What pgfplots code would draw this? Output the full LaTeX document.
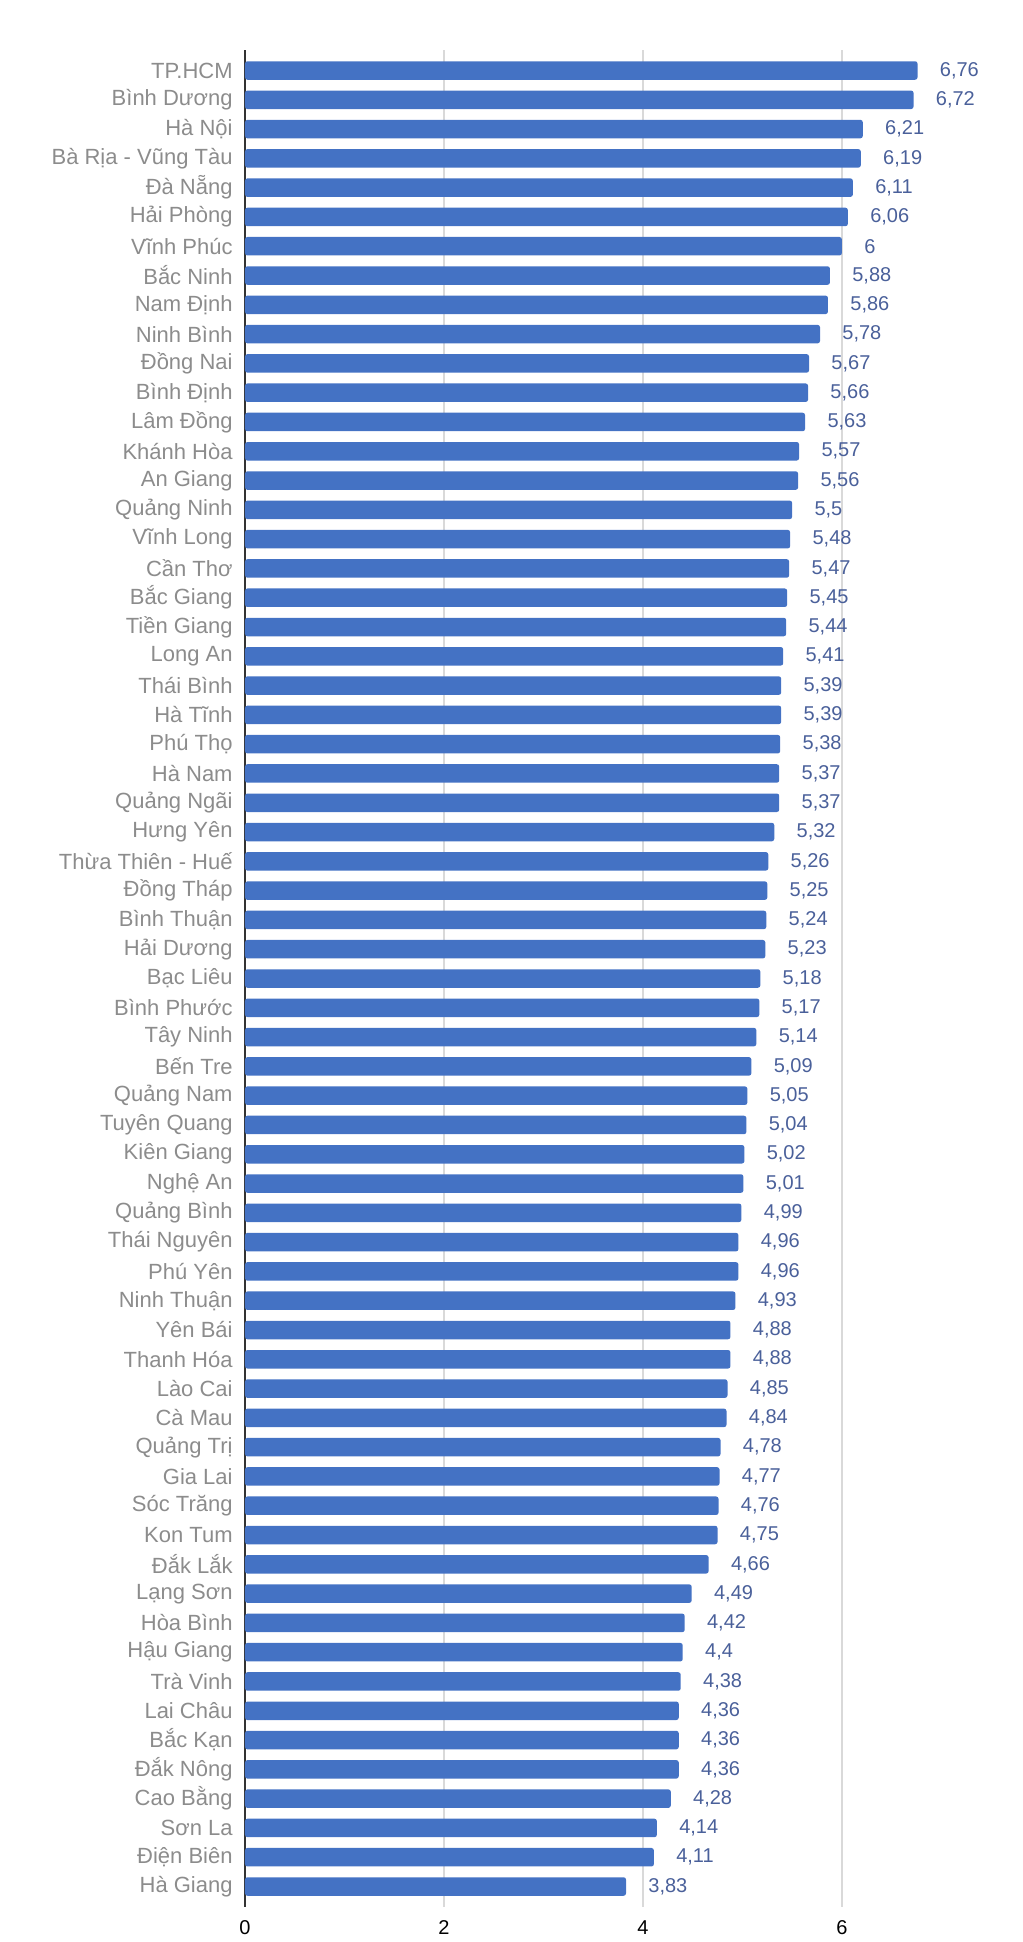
\documentclass[border=0pt]{standalone}
\usepackage{fontspec}
\setmainfont{Liberation Sans}
\usepackage{pgfplots}
\pgfplotsset{compat=1.18}
\definecolor{barblue}{HTML}{4472C4}
\definecolor{vallab}{HTML}{4A609A}
\definecolor{catgray}{HTML}{8C8C8C}
\definecolor{gridgray}{HTML}{D9D9D9}
\begin{document}
\begin{tikzpicture}
\path[use as bounding box] (-122.5pt,-17.5pt) rectangle (388.5pt,953.5pt);
\begin{axis}[
  at={(0,0)}, anchor=south west,
  scale only axis, width=388pt, height=928.5pt,
  xmin=0, xmax=7.8, ymin=-0.7, ymax=62.7, y dir=reverse,
  xbar, bar width=9.25pt,
  axis line style={draw=none},
  major tick length=0pt,
  xtick={0,2,4,6},
  xmajorgrids, grid style={gridgray, line width=0.6pt},
  extra x ticks={0}, extra x tick labels={},
  extra x tick style={grid style={black!80, line width=0.6pt}},
  xticklabel style={font=\fontsize{10pt}{12pt}\selectfont, color=black, inner sep=0pt, anchor=north, yshift=-6.5pt},
  /pgf/number format/assume math mode=true,
  ytick={0,...,62},
  yticklabels={TP.HCM,Bình Dương,Hà Nội,Bà Rịa - Vũng Tàu,Đà Nẵng,Hải Phòng,Vĩnh Phúc,Bắc Ninh,Nam Định,Ninh Bình,Đồng Nai,Bình Định,Lâm Đồng,Khánh Hòa,An Giang,Quảng Ninh,Vĩnh Long,Cần Thơ,Bắc Giang,Tiền Giang,Long An,Thái Bình,Hà Tĩnh,Phú Thọ,Hà Nam,Quảng Ngãi,Hưng Yên,Thừa Thiên - Huế,Đồng Tháp,Bình Thuận,Hải Dương,Bạc Liêu,Bình Phước,Tây Ninh,Bến Tre,Quảng Nam,Tuyên Quang,Kiên Giang,Nghệ An,Quảng Bình,Thái Nguyên,Phú Yên,Ninh Thuận,Yên Bái,Thanh Hóa,Lào Cai,Cà Mau,Quảng Trị,Gia Lai,Sóc Trăng,Kon Tum,Đắk Lắk,Lạng Sơn,Hòa Bình,Hậu Giang,Trà Vinh,Lai Châu,Bắc Kạn,Đắk Nông,Cao Bằng,Sơn La,Điện Biên,Hà Giang},
  yticklabel style={font=\fontsize{11pt}{13pt}\selectfont, color=catgray, inner sep=0pt, anchor=east, xshift=-6pt},
  point meta=x,
  nodes near coords={\pgfmathprintnumber[fixed,precision=2,use comma,assume math mode=true]{\pgfplotspointmeta}},
  nodes near coords style={font=\fontsize{10pt}{12pt}\selectfont, color=vallab, anchor=west, inner sep=0pt, xshift=11pt},
  clip=false,
]
\addplot[fill=barblue, draw=none, rounded corners=1.2pt] coordinates {
(6.76,0) (6.72,1) (6.21,2) (6.19,3) (6.11,4) (6.06,5) (6,6) (5.88,7) (5.86,8) (5.78,9)
(5.67,10) (5.66,11) (5.63,12) (5.57,13) (5.56,14) (5.5,15) (5.48,16) (5.47,17) (5.45,18) (5.44,19)
(5.41,20) (5.39,21) (5.39,22) (5.38,23) (5.37,24) (5.37,25) (5.32,26) (5.26,27) (5.25,28) (5.24,29)
(5.23,30) (5.18,31) (5.17,32) (5.14,33) (5.09,34) (5.05,35) (5.04,36) (5.02,37) (5.01,38) (4.99,39)
(4.96,40) (4.96,41) (4.93,42) (4.88,43) (4.88,44) (4.85,45) (4.84,46) (4.78,47) (4.77,48) (4.76,49)
(4.75,50) (4.66,51) (4.49,52) (4.42,53) (4.4,54) (4.38,55) (4.36,56) (4.36,57) (4.36,58) (4.28,59)
(4.14,60) (4.11,61) (3.83,62)
};
\end{axis}
\end{tikzpicture}
\end{document}
